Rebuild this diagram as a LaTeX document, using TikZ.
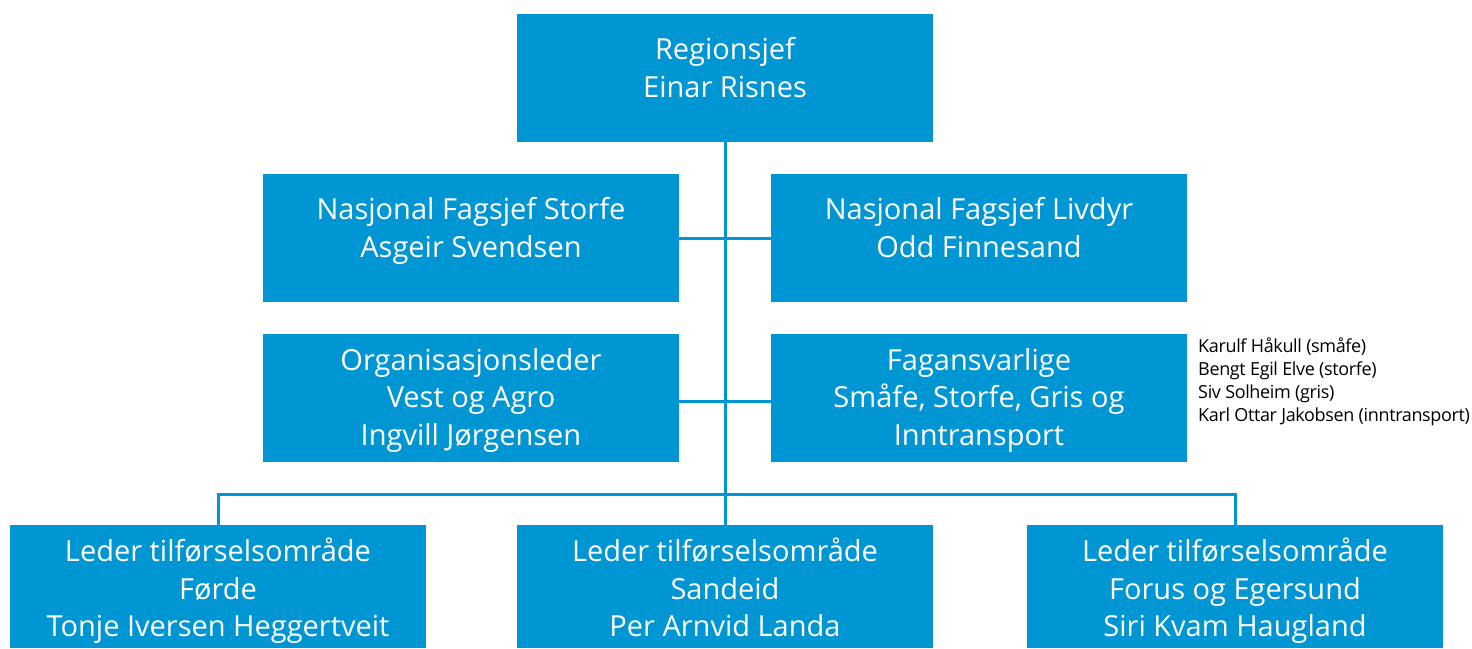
\documentclass[tikz,border=0pt]{standalone}
\usepackage{fontspec}
\setmainfont{Open Sans}
\newfontfamily\namefont[LetterSpace=-2]{Open Sans}
\usetikzlibrary{positioning}
\definecolor{nrblue}{RGB}{0,149,211}
\tikzset{
  box/.style={rectangle, fill=nrblue, minimum width=416pt, minimum height=128pt, inner sep=0pt},
  boxtext/.style={text=white, align=center, text depth=11pt, font=\fontsize{29}{37.5}\selectfont},
  line/.style={draw=nrblue, line width=3pt},
  smalltext/.style={align=left, inner sep=0pt, font=\namefont\fontsize{18}{23}\selectfont}
}

\begin{document}
\begin{tikzpicture}[x=1pt, y=-1pt]
\useasboundingbox (0,0) rectangle (1472,648);

% boxes
\node (top) [box] at (725,78) {};
\node (storfe) [box] at (471,238) {};
\node (livdyr) [box] at (979,238) {};
\node (org) [box] at (471,398) {};
\node (fag) [box] at (979,398) {};
\node (forde) [box, minimum height=123pt] at (218,586.5) {};
\node (sandeid) [box, minimum height=123pt] at (725,586.5) {};
\node (forus) [box, minimum height=123pt] at (1235,586.5) {};

% texts
\node (topT) [boxtext] at (725,73) {Regionsjef\\Einar Risnes};
\node (storfeT) [boxtext] at (471,233) {Nasjonal Fagsjef Storfe\\Asgeir Svendsen};
\node (livdyrT) [boxtext] at (979,233) {Nasjonal Fagsjef Livdyr\\Odd Finnesand};
\node (orgT) [boxtext] at (471,402) {Organisasjonsleder\\Vest og Agro\\Ingvill Jørgensen};
\node (fagT) [boxtext] at (979,402) {Fagansvarlige\\Småfe, Storfe, Gris og\\Inntransport};
\node (fordeT) [boxtext] at (218,593) {Leder tilførselsområde\\Førde\\Tonje Iversen Heggertveit};
\node (sandeidT) [boxtext] at (725,593) {Leder tilførselsområde\\Sandeid\\Per Arnvid Landa};
\node (forusT) [boxtext] at (1235,593) {Leder tilførselsområde\\Forus og Egersund\\Siri Kvam Haugland};
\node (fagNames) [smalltext, anchor=north west] at (1198,338) {Karulf Håkull (småfe)\\Bengt Egil Elve (storfe)\\Siv Solheim (gris)\\Karl Ottar Jakobsen (inntransport)};

% connectors
\coordinate (bus) at (725,494);
\draw [line] (top.south) -- (sandeid.north);
\draw [line] (storfe.east) -- (livdyr.west);
\draw [line] ([yshift=-3pt]org.east) -- ([yshift=-3pt]fag.west);
\draw [line] (forde.north) |- (bus) -| (forus.north);

\end{tikzpicture}
\end{document}
